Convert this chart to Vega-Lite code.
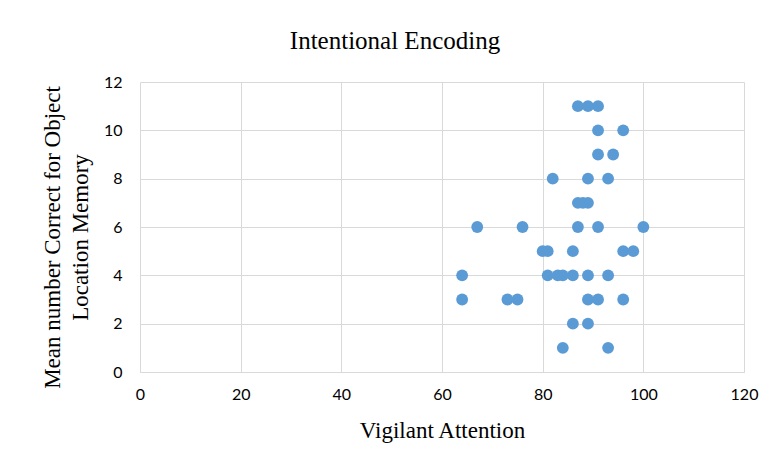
{
  "$schema": "https://vega.github.io/schema/vega-lite/v6.json",
  "autosize": {"type": "none"},
  "width": 604,
  "height": 290,
  "padding": {"left": 140, "top": 82, "right": 25, "bottom": 91},
  "background": "white",
  "title": {
    "text": "Intentional Encoding",
    "font": "Liberation Serif",
    "fontSize": 25,
    "fontWeight": "normal",
    "color": "#000000",
    "anchor": "middle",
    "dx": -47,
    "offset": 20
  },
  "data": {
    "values": [
      {"attention": 87, "correct": 11},
      {"attention": 89, "correct": 11},
      {"attention": 91, "correct": 11},
      {"attention": 91, "correct": 10},
      {"attention": 96, "correct": 10},
      {"attention": 91, "correct": 9},
      {"attention": 94, "correct": 9},
      {"attention": 82, "correct": 8},
      {"attention": 89, "correct": 8},
      {"attention": 93, "correct": 8},
      {"attention": 87, "correct": 7},
      {"attention": 88, "correct": 7},
      {"attention": 89, "correct": 7},
      {"attention": 67, "correct": 6},
      {"attention": 76, "correct": 6},
      {"attention": 87, "correct": 6},
      {"attention": 91, "correct": 6},
      {"attention": 100, "correct": 6},
      {"attention": 80, "correct": 5},
      {"attention": 81, "correct": 5},
      {"attention": 86, "correct": 5},
      {"attention": 96, "correct": 5},
      {"attention": 98, "correct": 5},
      {"attention": 64, "correct": 4},
      {"attention": 81, "correct": 4},
      {"attention": 83, "correct": 4},
      {"attention": 84, "correct": 4},
      {"attention": 86, "correct": 4},
      {"attention": 89, "correct": 4},
      {"attention": 93, "correct": 4},
      {"attention": 64, "correct": 3},
      {"attention": 73, "correct": 3},
      {"attention": 75, "correct": 3},
      {"attention": 89, "correct": 3},
      {"attention": 91, "correct": 3},
      {"attention": 96, "correct": 3},
      {"attention": 86, "correct": 2},
      {"attention": 89, "correct": 2},
      {"attention": 84, "correct": 1},
      {"attention": 93, "correct": 1}
    ]
  },
  "mark": {"type": "circle", "size": 140, "color": "#5B9BD5", "opacity": 1},
  "encoding": {
    "x": {
      "field": "attention",
      "type": "quantitative",
      "scale": {"domain": [0, 120], "nice": false, "zero": false},
      "axis": {
        "title": "Vigilant Attention",
        "values": [0, 20, 40, 60, 80, 100, 120],
        "grid": true,
        "gridColor": "#d9d9d9",
        "gridWidth": 1,
        "domain": true,
        "domainColor": "#d9d9d9",
        "ticks": false,
        "labelFlush": false,
        "labelPadding": 14,
        "labelFont": "Lato",
        "labelFontSize": 16,
        "labelColor": "#000000",
        "titleFont": "Liberation Serif",
        "titleFontSize": 23,
        "titleFontWeight": "normal",
        "titleColor": "#000000",
        "titlePadding": 17
      }
    },
    "y": {
      "field": "correct",
      "type": "quantitative",
      "scale": {"domain": [0, 12], "nice": false, "zero": false},
      "axis": {
        "title": ["Mean number Correct for Object", "Location Memory"],
        "values": [0, 2, 4, 6, 8, 10, 12],
        "grid": true,
        "gridColor": "#d9d9d9",
        "gridWidth": 1,
        "domain": false,
        "ticks": false,
        "labelPadding": 18,
        "labelFont": "Lato",
        "labelFontSize": 16,
        "labelColor": "#000000",
        "titleFont": "Liberation Serif",
        "titleFontSize": 23,
        "titleFontWeight": "normal",
        "titleColor": "#000000",
        "titlePadding": 11,
        "titleLineHeight": 28,
        "titleY": 155
      }
    }
  },
  "config": {
    "view": {"stroke": null}
  }
}
